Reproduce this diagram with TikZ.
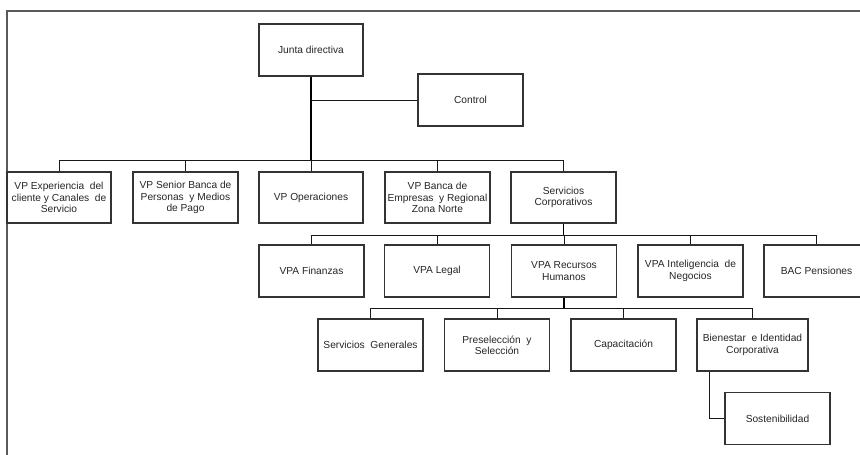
\documentclass[tikz,border=0pt]{standalone}
\usepackage{fontspec}
\setmainfont{Liberation Sans}
\begin{document}
\begin{tikzpicture}[x=1pt,y=-1pt,
  box/.style={draw=black!80, line width=1.2pt, fill=white, text=black!85,
    minimum width=105pt, minimum height=52pt, inner sep=1pt, align=center,
    font=\fontsize{10.2}{11.3}\selectfont},
  conn/.style={draw=black!90, line width=0.9pt},
  trunk/.style={draw=black, line width=1.6pt},
  frame/.style={draw=black!65, line width=1.3pt}]
\clip (0,0) rectangle (860,455);
\fill[white] (0,0) rectangle (860,455);
% frame
\draw[frame] (7,455) -- (7,11) -- (860,11);
% bus levels
\coordinate (b1) at (0,160);
\coordinate (b2) at (0,235);
\coordinate (b3) at (0,308);
% nodes
\node[box, minimum width=104pt] (junta) at (311,50) {Junta directiva};
\node[box] (control) at (470.5,100) {Control};
\node[box, minimum width=104pt, minimum height=51pt] (vpexp) at (59,197.5) {VP Experiencia\ \ del\\cliente\ y Canales\ \ de\\Servicio};
\node[box, minimum height=51pt] (vpsenior) at (185.5,197.5) {VP Senior\ Banca de\\Personas\ \ y Medios\\de Pago};
\node[box, minimum width=104pt, minimum height=51pt] (vpops) at (311,197.5) {VP Operaciones};
\node[box, minimum height=51pt] (vpbanca) at (437.5,197.5) {VP Banca de\\Empresas\ \ y Regional\\Zona Norte};
\node[box, minimum height=51pt] (servcorp) at (563.5,197.5) {Servicios\\Corporativos};
\node[box] (fin) at (311.5,271) {VPA Finanzas};
\node[box] (legal) at (437,271) {VPA Legal};
\node[box] (rrhh) at (564,271) {VPA Recursos\\Humanos};
\node[box] (intel) at (690.5,271) {VPA Inteligencia\ \ de\\Negocios};
\node[box] (bac) at (816.5,271) {BAC Pensiones};
\node[box] (sg) at (370.5,345) {Servicios\ \ Generales};
\node[box] (pres) at (497,345) {Preselección\ \ y\\Selección};
\node[box] (cap) at (623.5,345) {Capacitación};
\node[box, minimum width=111pt] (bien) at (752.5,345) {Bienestar\ \ e Identidad\\Corporativa};
\node[box] (sost) at (777.5,418.5) {Sostenibilidad};
% level 1 connectors
\draw[trunk] (junta.south) -- (junta.south |- b1);
\draw[conn] (control.west -| junta.south) -- (control.west);
\draw[conn] (vpexp.north) |- (servcorp.north |- b1) -- (servcorp.north);
\draw[conn] (vpsenior.north) -- (vpsenior.north |- b1);
\draw[conn] (vpops.north) -- (vpops.north |- b1);
\draw[conn] (vpbanca.north) -- (vpbanca.north |- b1);
% level 2 connectors
\draw[trunk] (servcorp.south) -- (servcorp.south |- b2);
\draw[conn] (fin.north) |- (bac.north |- b2) -- (bac.north);
\draw[conn] (legal.north) -- (legal.north |- b2);
\draw[conn] (rrhh.north) -- (rrhh.north |- b2);
\draw[conn] (intel.north) -- (intel.north |- b2);
% level 3 connectors
\draw[trunk] (rrhh.south) -- (rrhh.south |- b3);
\draw[conn] (sg.north) |- (bien.north |- b3) -- (bien.north);
\draw[conn] (pres.north) -- (pres.north |- b3);
\draw[conn] (cap.north) -- (cap.north |- b3);
% sostenibilidad
\draw[conn] ([xshift=-43.5pt]bien.south) |- (sost.west);
\end{tikzpicture}
\end{document}
